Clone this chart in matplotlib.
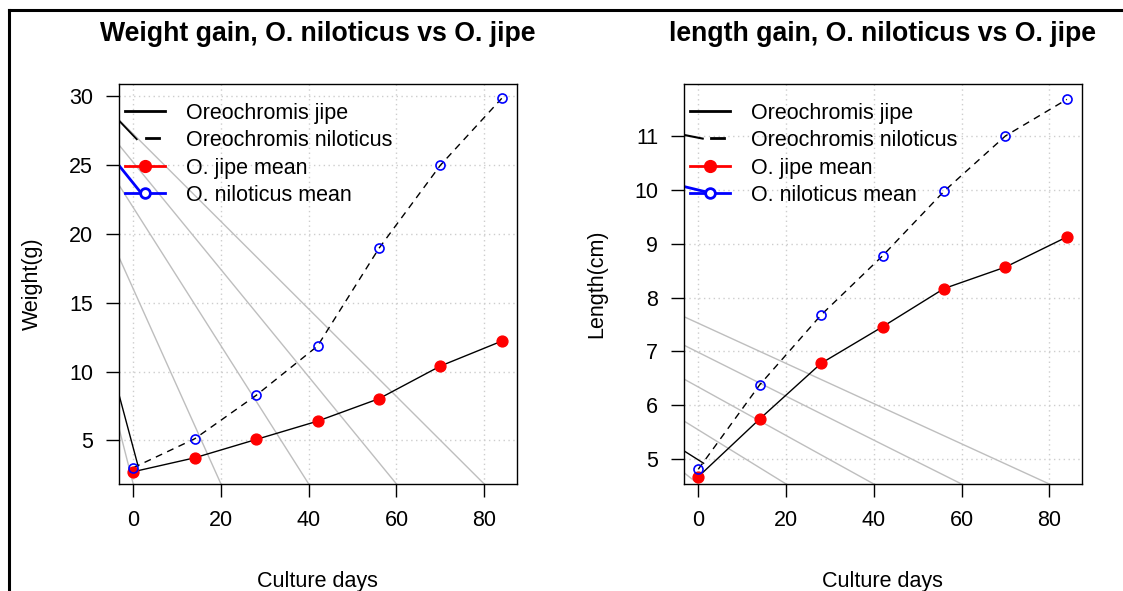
import matplotlib
matplotlib.use("Agg")
import matplotlib.pyplot as plt
from matplotlib.lines import Line2D

plt.rcParams["font.family"] = ["Liberation Sans", "DejaVu Sans"]

# culture days and mean values
days = [0, 14, 28, 42, 56, 70, 84]
weight_jipe = [2.73, 3.74, 5.07, 6.40, 8.03, 10.40, 12.21]
weight_nil = [3.02, 5.12, 8.27, 11.85, 18.94, 24.97, 29.83]
weight_jipe_err = [0.15, 0.15, 0.25, 0.3, 0.2, 0.35, 0.3]
length_jipe = [4.67, 5.745, 6.78, 7.46, 8.17, 8.57, 9.13]
length_nil = [4.81, 6.38, 7.68, 8.78, 9.98, 11.01, 11.69]
length_jipe_err = [0.06, 0.05, 0.09, 0.05, 0.06, 0.05, 0.07]

# grey guide lines: value at the left edge, day where they reach the bottom
weight_guide_left = [28.31, 26.49, 23.59, 18.38, 6.04]
length_guide_left = [7.65, 7.12, 6.49, 5.71, 4.75]
guide_bottom_days = [80, 60, 40, 20, 0]

# stray strokes from the left edge: (y at edge, end day, end y, colour, width)
weight_strokes = [(28.25, 0.8, 26.86, "black", 1.3),
                  (8.46, 1.1, 3.15, "black", 1.0),
                  (25.0, 1.5, 23.08, "blue", 2.0)]
length_strokes = [(11.03, 1.0, 10.96, "black", 1.5),
                  (5.155, 1.2, 4.92, "black", 1.0),
                  (10.07, 1.2, 9.98, "blue", 2.0)]

legend_labels = ["Oreochromis jipe", "Oreochromis niloticus", "O. jipe mean", "O. niloticus mean"]

W, H = 1123, 591
fig = plt.figure(figsize=(W / 100, H / 100), dpi=100)

# outer frame (left and top edges visible)
fig.add_artist(Line2D([9 / W, 9 / W], [0, 1 - 10 / H], color="black", lw=2.2, transform=fig.transFigure))
fig.add_artist(Line2D([9 / W, 1], [1 - 10 / H, 1 - 10 / H], color="black", lw=2.2, transform=fig.transFigure))

fs = 15.5


def panel(left_px, jipe, nil, err, ylim, yticks, guide_left, strokes, title, ylabel):
    ax = fig.add_axes([left_px / W, (H - 484) / H, 398 / W, 400 / H])
    xlim = (-3.36, 87.36)
    ax.set_xlim(*xlim)
    ax.set_ylim(*ylim)
    ax.set_xticks([0, 20, 40, 60, 80])
    ax.set_yticks(yticks)
    ax.grid(True, color="#CDCDCD", linestyle=(0, (1, 2.5)), lw=1)
    ax.set_axisbelow(True)
    for s in ax.spines.values():
        s.set_linewidth(1.0)
    ax.tick_params(direction="out", length=9.4, width=1, pad=9, labelsize=fs)

    for yl, bd in zip(guide_left, guide_bottom_days):
        ax.plot([xlim[0], bd], [yl, ylim[0]], color="#BEBEBE", lw=1, zorder=1)
    for y0, x1, y1, c, lw in strokes:
        ax.plot([xlim[0], x1], [y0, y1], color=c, lw=lw, zorder=2)

    ax.plot(days, jipe, color="black", lw=1, zorder=3)
    ax.plot(days, nil, color="black", lw=1, ls=(0, (5, 4)), zorder=3)
    ax.errorbar(days, jipe, yerr=err, fmt="none", ecolor="red", elinewidth=2, zorder=4)
    ax.plot(days, jipe, "o", color="red", ms=7.8, zorder=5)
    ax.plot(days, nil, "o", mfc="none", mec="blue", mew=1.2, ms=6.5, zorder=5)

    # legend drawn by hand, no frame
    rows = [0.933, 0.864, 0.796, 0.728]
    tr = ax.transAxes
    ax.plot([0.016, 0.117], [rows[0]] * 2, color="black", lw=2, transform=tr)
    ax.plot([0.069, 0.102], [rows[1]] * 2, color="black", lw=2, transform=tr)
    ax.plot([0.016, 0.117], [rows[2]] * 2, color="red", lw=2, transform=tr)
    ax.plot([0.0666], [rows[2]], "o", color="red", ms=8.5, transform=tr)
    ax.plot([0.016, 0.117], [rows[3]] * 2, color="blue", lw=2, transform=tr)
    ax.plot([0.0666], [rows[3]], "o", mfc="white", mec="blue", mew=2, ms=7, transform=tr)
    for r, lab in zip(rows, legend_labels):
        ax.text(0.17, r, lab, fontsize=fs, va="center_baseline", ha="left", transform=tr)

    ax.text(0.5, 1 + 43 / 400, title, fontsize=19.2, fontweight="bold", ha="center",
            va="baseline", transform=tr)
    ax.set_xlabel("Culture days", fontsize=fs)
    ax.xaxis.set_label_coords(0.5, -87 / 400)
    ax.set_ylabel(ylabel, fontsize=fs)
    ax.yaxis.set_label_coords(-76 / 398, 0.5)
    return ax


panel(118.5, weight_jipe, weight_nil, weight_jipe_err, (1.84, 30.87), [5, 10, 15, 20, 25, 30],
      weight_guide_left, weight_strokes, "Weight gain, O. niloticus vs O. jipe", "Weight(g)")
panel(683.6, length_jipe, length_nil, length_jipe_err, (4.534, 11.976), [5, 6, 7, 8, 9, 10, 11],
      length_guide_left, length_strokes, "length gain, O. niloticus vs O. jipe", "Length(cm)")

fig.savefig("out.png", dpi=100)
